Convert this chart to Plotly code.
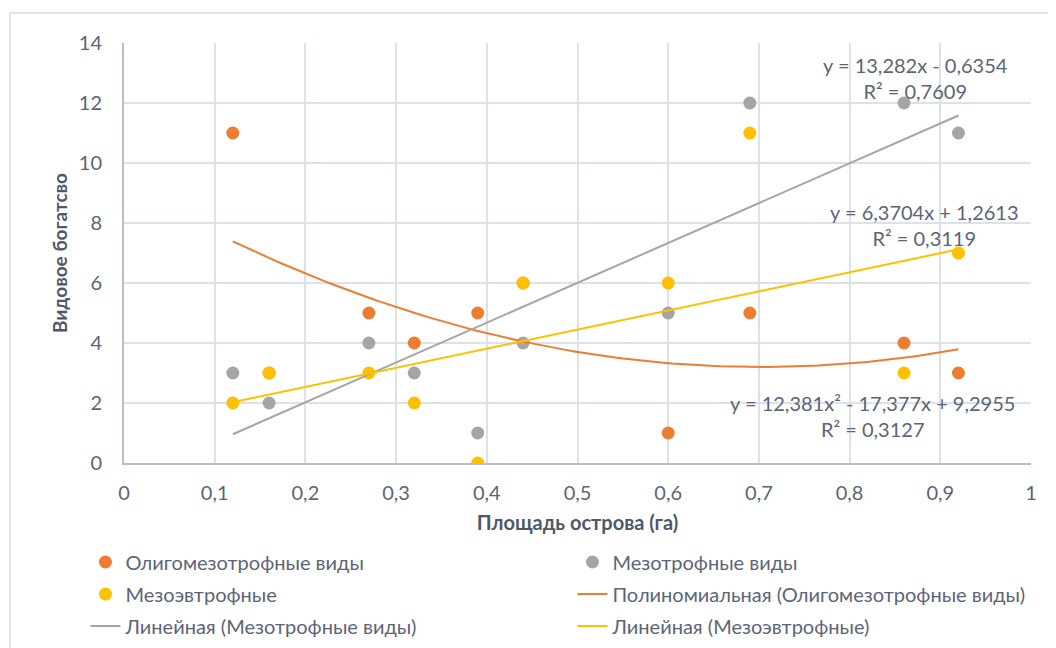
import numpy as np
import plotly.graph_objects as go

# ---- data ----
area = [0.12, 0.16, 0.27, 0.32, 0.39, 0.44, 0.60, 0.69, 0.86, 0.92]
oligomezo = [11, 3, 5, 4, 5, 6, 1, 5, 4, 3]
mezo = [3, 2, 4, 3, 1, 4, 5, 12, 12, 11]
mezoevtro = [2, 3, 3, 2, 0, 6, 6, 11, 3, 7]

# trendline coefficients (highest power first), as displayed
poly_oligo = [12.381, -17.377, 9.2955]
lin_mezo = [13.282, -0.6354]
lin_mezoevtro = [6.3704, 1.2613]

x_ticks = [0, 0.1, 0.2, 0.3, 0.4, 0.5, 0.6, 0.7, 0.8, 0.9, 1]
y_ticks = [0, 2, 4, 6, 8, 10, 12, 14]

ORANGE = "#ED7D31"
GRAY = "#A5A5A5"
YELLOW = "#FFC000"
TXT = "#5B6577"
TITLE = "#4E586A"
FONT = "Lato, 'Open Sans', sans-serif"

xs = np.linspace(min(area), max(area), 120)

fig = go.Figure()
fig.add_trace(go.Scatter(x=area, y=oligomezo, mode="markers", name="Олигомезотрофные виды",
                         marker=dict(color=ORANGE, size=13), legend="legend"))
fig.add_trace(go.Scatter(x=area, y=mezo, mode="markers", name="Мезотрофные виды",
                         marker=dict(color=GRAY, size=13), legend="legend"))
fig.add_trace(go.Scatter(x=area, y=mezoevtro, mode="markers", name="Мезоэвтрофные",
                         marker=dict(color=YELLOW, size=13), legend="legend2"))
fig.add_trace(go.Scatter(x=xs, y=np.polyval(poly_oligo, xs), mode="lines",
                         name="Полиномиальная (Олигомезотрофные виды)",
                         line=dict(color=ORANGE, width=2), legend="legend2"))
fig.add_trace(go.Scatter(x=xs, y=np.polyval(lin_mezo, xs), mode="lines",
                         name="Линейная (Мезотрофные виды)",
                         line=dict(color=GRAY, width=2), legend="legend3"))
fig.add_trace(go.Scatter(x=xs, y=np.polyval(lin_mezoevtro, xs), mode="lines",
                         name="Линейная (Мезоэвтрофные)",
                         line=dict(color=YELLOW, width=2), legend="legend3"))

def fmt(v):
    return f"{v:.4f}".rstrip("0").replace(".", ",")

ann = [
    (0.873, 12.85, f"y = {fmt(lin_mezo[0])}x - {fmt(-lin_mezo[1])}<br>R² = 0,7609"),
    (0.883, 7.95, f"y = {fmt(lin_mezoevtro[0])}x + {fmt(lin_mezoevtro[1])}<br>R² = 0,3119"),
    (0.825, 1.58, f"y = {fmt(poly_oligo[0])}x² - {fmt(-poly_oligo[1])}x + {fmt(poly_oligo[2])}<br>R² = 0,3127"),
]
for ax_, ay_, t in ann:
    fig.add_annotation(x=ax_, y=ay_, text=t, showarrow=False, xref="x", yref="y",
                       font=dict(family=FONT, size=20, color=TXT), align="center")

# chart border
fig.add_shape(type="rect", xref="paper", yref="paper", x0=-0.1257, y0=-0.45, x1=1.04, y1=1.0714,
              line=dict(color="#D9DCE1", width=1.5), layer="below")

def leg(y):
    return dict(orientation="h", x=-0.0425, xanchor="left", y=y, yanchor="middle",
                entrywidth=442, entrywidthmode="pixels",
                font=dict(family=FONT, size=20, color=TXT), bgcolor="rgba(0,0,0,0)")

fig.update_layout(
    width=1048, height=640,
    margin=dict(l=116, r=25, t=35, b=185, autoexpand=False),
    paper_bgcolor="white", plot_bgcolor="white",
    separators=", ",
    font=dict(family=FONT, size=20, color=TXT),
    showlegend=True,
    legend=leg(-0.2357),
    legend2=leg(-0.312),
    legend3=leg(-0.388),
    xaxis=dict(range=[0, 1], tickvals=x_ticks, showgrid=True, gridcolor="#DDE1E8", gridwidth=1.5,
               showline=True, linecolor="#B7BFCE", linewidth=2, zeroline=False, ticks="",
               tickfont=dict(size=20, color=TXT), ticklabelstandoff=11,
               title=dict(text="<b>Площадь острова (га)</b>", font=dict(size=20, color=TITLE), standoff=13)),
    yaxis=dict(range=[0, 14], tickvals=y_ticks, showgrid=True, gridcolor="#DDE1E8", gridwidth=1.5,
               showline=True, linecolor="#B7BFCE", linewidth=2, zeroline=False, ticks="",
               tickfont=dict(size=20, color=TXT), ticklabelstandoff=16,
               title=dict(text="<b>Видовое богатсво</b>", font=dict(size=19, color=TITLE), standoff=6)),
)

fig.write_html("out.html")
